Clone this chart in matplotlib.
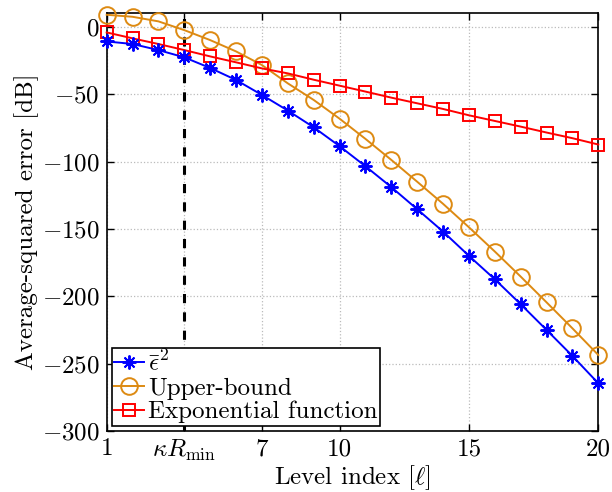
import numpy as np
import matplotlib
matplotlib.use("Agg")
import matplotlib.pyplot as plt

plt.rcParams['font.family'] = 'serif'
plt.rcParams['font.serif'] = ['cmr10']
plt.rcParams['mathtext.fontset'] = 'cm'
plt.rcParams['axes.formatter.use_mathtext'] = True
plt.rcParams['font.size'] = 18

# Level indices and errors in dB
levels = np.arange(1, 21)
eps_bar = [-10.9, -12.8, -17.3, -22.7, -30.6, -39.5, -50.6, -62.2, -74.6, -88.6,
           -103.5, -119.0, -135.4, -152.0, -170.0, -187.4, -205.9, -225.0, -244.3, -264.6]
upper_bound = [8.9, 7.4, 4.0, -2.5, -9.9, -18.3, -28.4, -42.0, -54.3, -68.2,
               -83.2, -98.8, -115.0, -131.4, -148.8, -166.8, -185.4, -204.5, -223.8, -243.6]
exp_func = [-4.2, -8.6, -12.8, -17.3, -22.0, -26.4, -30.9, -34.6, -39.3, -43.7,
            -48.1, -52.6, -56.8, -61.0, -65.7, -69.9, -74.1, -78.5, -82.7, -87.4]

kappa_rmin = 4
xticks = [1, kappa_rmin, 7, 10, 15, 20]
xticklabels = ['1', r'$\kappa R_{\min}$', '7', '10', '15', '20']
yticks = [0, -50, -100, -150, -200, -250, -300]

fig = plt.figure(figsize=(6.12, 4.92), dpi=100)
ax = fig.add_axes([0.1743, 0.124, 0.9776 - 0.1743, 0.973 - 0.124])

orange = '#DD8A12'
ax.plot(levels, eps_bar, color='b', lw=1.4, marker=(8, 2, 0), ms=10, mew=1.4,
        label=r'$\bar{\epsilon}^2$', zorder=4, clip_on=False)
ax.plot(levels, upper_bound, color=orange, lw=1.4, marker='o', ms=12, mfc='none',
        mew=1.4, label='Upper-bound', zorder=3, clip_on=False)
ax.plot(levels, exp_func, color='r', lw=1.4, marker='s', ms=9, mfc='none',
        mew=1.4, label='Exponential function', zorder=3, clip_on=False)

ax.axvline(kappa_rmin, color='k', lw=2.2, ls=(0, (3, 3)), zorder=2)

ax.set_xlim(1, 20)
ax.set_ylim(-300, 10)
ax.set_xticks(xticks)
ax.set_xticklabels(xticklabels)
ax.set_yticks(yticks)
ax.grid(True, color='#bbbbbb', ls=':', lw=0.9)
ax.tick_params(direction='in', top=True, right=True, length=5, width=1, pad=5)
for s in ax.spines.values():
    s.set_linewidth(1.2)

ax.set_xlabel(r'Level index [$\ell$]', labelpad=0)
ax.set_ylabel('Average-squared error [dB]', labelpad=2)

leg = ax.legend(loc='lower left', fancybox=False, edgecolor='k', framealpha=1,
                borderaxespad=0.2, borderpad=0.1, handlelength=1.2,
                handletextpad=0.15, labelspacing=0.05)
leg.get_frame().set_linewidth(1.2)
leg.set_zorder(5)

fig.savefig('out.png', dpi=100)
